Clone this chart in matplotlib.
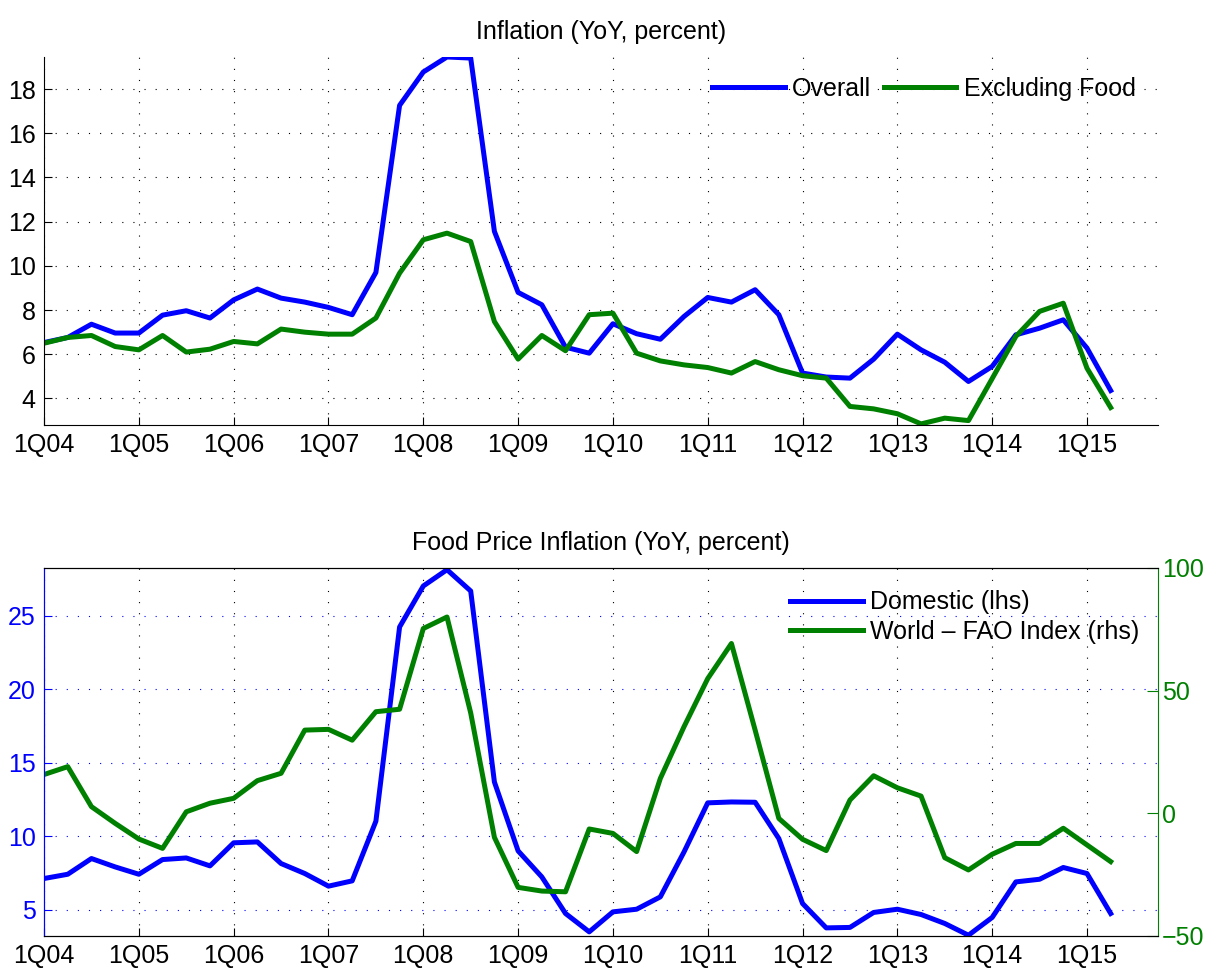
# Inflation charts: headline vs non-food, domestic vs world food prices
import numpy as np
import matplotlib.pyplot as plt

plt.rcParams['font.family'] = ['Liberation Sans', 'DejaVu Sans']
plt.rcParams['font.size'] = 18

tick_labels = ['1Q04', '1Q05', '1Q06', '1Q07', '1Q08', '1Q09', '1Q10',
               '1Q11', '1Q12', '1Q13', '1Q14', '1Q15']

overall = [6.53, 6.76, 7.36, 6.96, 6.96, 7.77, 7.97, 7.64, 8.46, 8.95,
           8.54, 8.36, 8.12, 7.79, 9.70, 17.26, 18.77, 19.45, 19.40, 11.56,
           8.80, 8.24, 6.32, 6.05, 7.38, 6.93, 6.68, 7.71, 8.57, 8.36,
           8.92, 7.79, 5.15, 4.97, 4.92, 5.78, 6.91, 6.20, 5.64, 4.77,
           5.45, 6.88, 7.18, 7.56, 6.28, 4.36]
excl_food = [6.50, 6.76, 6.85, 6.35, 6.20, 6.85, 6.10, 6.23, 6.58, 6.47,
             7.14, 7.00, 6.91, 6.91, 7.64, 9.67, 11.18, 11.48, 11.10, 7.48,
             5.78, 6.85, 6.16, 7.79, 7.86, 6.05, 5.70, 5.52, 5.40, 5.15,
             5.67, 5.30, 5.03, 4.92, 3.64, 3.53, 3.31, 2.85, 3.11, 3.00,
             4.90, 6.81, 7.94, 8.31, 5.37, 3.59]

domestic = [7.11, 7.40, 8.47, 7.90, 7.40, 8.40, 8.51, 7.97, 9.54, 9.60,
            8.13, 7.45, 6.59, 6.95, 11.01, 24.23, 27.02, 28.13, 26.68, 13.68,
            8.99, 7.22, 4.73, 3.48, 4.84, 5.02, 5.86, 8.92, 12.26, 12.32,
            12.30, 9.83, 5.41, 3.75, 3.78, 4.80, 5.02, 4.66, 4.05, 3.25,
            4.46, 6.88, 7.06, 7.86, 7.45, 4.73]
world_fao = [15.8, 19.0, 2.7, -4.1, -10.5, -14.3, 0.6, 4.1, 6.1, 13.3,
             16.3, 33.9, 34.2, 29.8, 41.4, 42.4, 75.3, 80.0, 40.9, -9.8,
             -30.2, -31.7, -32.0, -6.4, -8.2, -15.6, 14.2, 35.3, 54.9, 69.2,
             33.9, -2.1, -10.6, -15.2, 5.4, 15.3, 10.4, 7.0, -18.1, -23.1,
             -16.7, -12.3, -12.3, -6.1, -12.9, -19.7]

x = np.arange(len(overall))
xt = np.arange(0, len(overall), 4)

blue = (0, 0, 1)
green = (0, 0.5, 0)
dots = (0, (1, 9))
lw = 3.6

fig = plt.figure(figsize=(12.1, 9.69), dpi=100)

# ---- top panel
ax1 = fig.add_axes([0.0364, 0.5614, 0.9207, 0.3798])
ax1.plot(x, overall, color=blue, lw=lw, label='Overall')
ax1.plot(x, excl_food, color=green, lw=lw, label='Excluding Food')
ax1.set_xlim(0, 47)
ax1.set_ylim(2.8, 19.45)
ax1.set_yticks(np.arange(4, 19, 2))
ax1.set_xticks(xt)
ax1.set_xticklabels(tick_labels)
ax1.spines['top'].set_visible(False)
ax1.spines['right'].set_visible(False)
ax1.tick_params(direction='in', length=6, width=0.8, pad=6)
ax1.grid(True, color='black', linestyle=dots, linewidth=0.8)
ax1.set_axisbelow(True)
ax1.set_title('Inflation (YoY, percent)', fontsize=18, pad=13)
ax1.legend(loc='center left', bbox_to_anchor=(0.5996, 0.913), ncol=2,
           frameon=False, borderpad=0, borderaxespad=0, handlelength=2.9,
           handletextpad=0.3, columnspacing=0.5)

# ---- bottom panel
ax2 = fig.add_axes([0.0364, 0.0341, 0.9207, 0.3798])
ax3 = ax2.twinx()
l1, = ax2.plot(x, domestic, color=blue, lw=lw, label='Domestic (lhs)')
l2, = ax3.plot(x, world_fao, color=green, lw=lw, label='World \u2013 FAO Index (rhs)')
ax2.set_xlim(0, 47)
ax2.set_ylim(3.2, 28.25)
ax2.set_yticks([5, 10, 15, 20, 25])
ax3.set_ylim(-50, 100)
ax3.set_yticks([-50, 0, 50, 100])
ax2.set_xticks(xt)
ax2.set_xticklabels(tick_labels)
ax2.tick_params(axis='x', direction='in', length=6, width=0.8, pad=6)
ax2.tick_params(axis='y', direction='in', length=6, width=0.8, pad=6,
                colors=blue)
ax3.tick_params(axis='y', direction='in', length=8, width=0.8, pad=3,
                colors=green)
ax2.spines['left'].set_color(blue)
ax3.spines['left'].set_color(blue)
ax3.spines['right'].set_color(green)
ax2.spines['right'].set_visible(False)
ax2.xaxis.grid(True, color='black', linestyle=dots, linewidth=0.8)
ax2.yaxis.grid(True, color=blue, linestyle=dots, linewidth=0.8)
ax2.set_axisbelow(True)
ax2.set_title('Food Price Inflation (YoY, percent)', fontsize=18, pad=13)
ax3.legend([l1, l2], [l1.get_label(), l2.get_label()], loc='center left',
           bbox_to_anchor=(0.6697, 0.866), frameon=False, borderpad=0,
           borderaxespad=0, handlelength=2.9, handletextpad=0.3,
           labelspacing=0.22)

fig.savefig('out.png', dpi=100)
